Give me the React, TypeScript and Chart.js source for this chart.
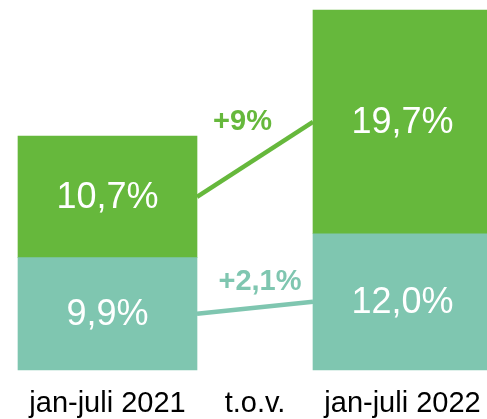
import React, { useEffect, useRef } from 'react';
import { Chart, registerables } from 'chart.js';

Chart.register(...registerables);

const categories = ['jan-juli 2021', 't.o.v.', 'jan-juli 2022'];
const lowerSeries = [9.9, null, 12.0];
const upperSeries = [10.7, null, 19.7];
const changeLabels = ['+2,1%', '+9%'];

const TEAL = '#7fc6b0';
const GREEN = '#66b83c';
const FONT = "'Liberation Sans', Arial, sans-serif";

const fmt = (v: number) => v.toFixed(1).replace('.', ',') + '%';

const totals = lowerSeries.map((v, i) => (v ?? 0) + (upperSeries[i] ?? 0));
const yMax = Math.max(...totals);

// label offsets (style only): [dx, dy above line midpoint]
const changeOffsets = [
  [5, 26],
  [-12.5, 37.5],
];

const overlayPlugin = {
  id: 'overlay',
  afterDatasetsDraw(chart: any) {
    const { ctx } = chart;
    const xScale = chart.scales.x;
    ctx.save();
    chart.data.datasets.forEach((ds: any, di: number) => {
      const meta = chart.getDatasetMeta(di);
      const els = meta.data;
      const color = ds.backgroundColor;
      ctx.fillStyle = '#ffffff';
      ctx.font = `36px ${FONT}`;
      ctx.textAlign = 'center';
      ctx.textBaseline = 'middle';
      els.forEach((el: any, i: number) => {
        const v = ds.data[i];
        if (v == null) return;
        const p = el.getProps(['x', 'y', 'base'], true);
        ctx.fillText(fmt(v), p.x, (p.y + p.base) / 2 + 1);
      });
      const a = els[0].getProps(['x', 'y', 'base', 'width'], true);
      const b = els[2].getProps(['x', 'y', 'base', 'width'], true);
      const x1 = a.x + a.width / 2;
      const y1 = (a.y + a.base) / 2;
      const x2 = b.x - b.width / 2;
      const y2 = (b.y + b.base) / 2;
      ctx.strokeStyle = color;
      ctx.lineWidth = 4.5;
      ctx.beginPath();
      ctx.moveTo(x1, y1);
      ctx.lineTo(x2, y2);
      ctx.stroke();
      const mx = xScale.getPixelForValue(1);
      const my = (y1 + y2) / 2;
      const [dx, dy] = changeOffsets[di];
      ctx.fillStyle = color;
      ctx.font = `bold 29px ${FONT}`;
      ctx.fillText(changeLabels[di], mx + dx, my - dy);
    });
    ctx.restore();
  },
};

export default function App() {
  const ref = useRef<HTMLCanvasElement | null>(null);
  useEffect(() => {
    document.body.style.margin = '0';
    const chart = new Chart(ref.current as HTMLCanvasElement, {
      type: 'bar',
      data: {
        labels: categories,
        datasets: [
          { label: 'lower', data: lowerSeries, backgroundColor: TEAL, barThickness: 179, clip: false } as any,
          { label: 'upper', data: upperSeries, backgroundColor: GREEN, barThickness: 179, clip: false } as any,
        ],
      },
      options: {
        responsive: false,
        animation: false,
        layout: { padding: { top: 10, left: 33.75, right: 10.75, bottom: 0 } },
        plugins: { legend: { display: false }, tooltip: { enabled: false } },
        scales: {
          x: {
            stacked: true,
            grid: { display: false, drawTicks: false },
            border: { display: false },
            ticks: {
              color: '#000000',
              font: { family: FONT, size: 29 },
              autoSkip: false,
              maxRotation: 0,
              minRotation: 0,
              padding: 17,
            },
            afterFit: (scale: any) => {
              scale.height = 49;
              scale.paddingLeft = 0;
              scale.paddingRight = 0;
            },
          },
          y: {
            stacked: true,
            display: false,
            min: 0,
            max: yMax,
          },
        },
      },
      plugins: [overlayPlugin],
    });
    return () => chart.destroy();
  }, []);
  return (
    <div style={{ position: 'absolute', left: 0, top: 0, width: 487, height: 419 }}>
      <canvas ref={ref} width={487} height={419} />
    </div>
  );
}
